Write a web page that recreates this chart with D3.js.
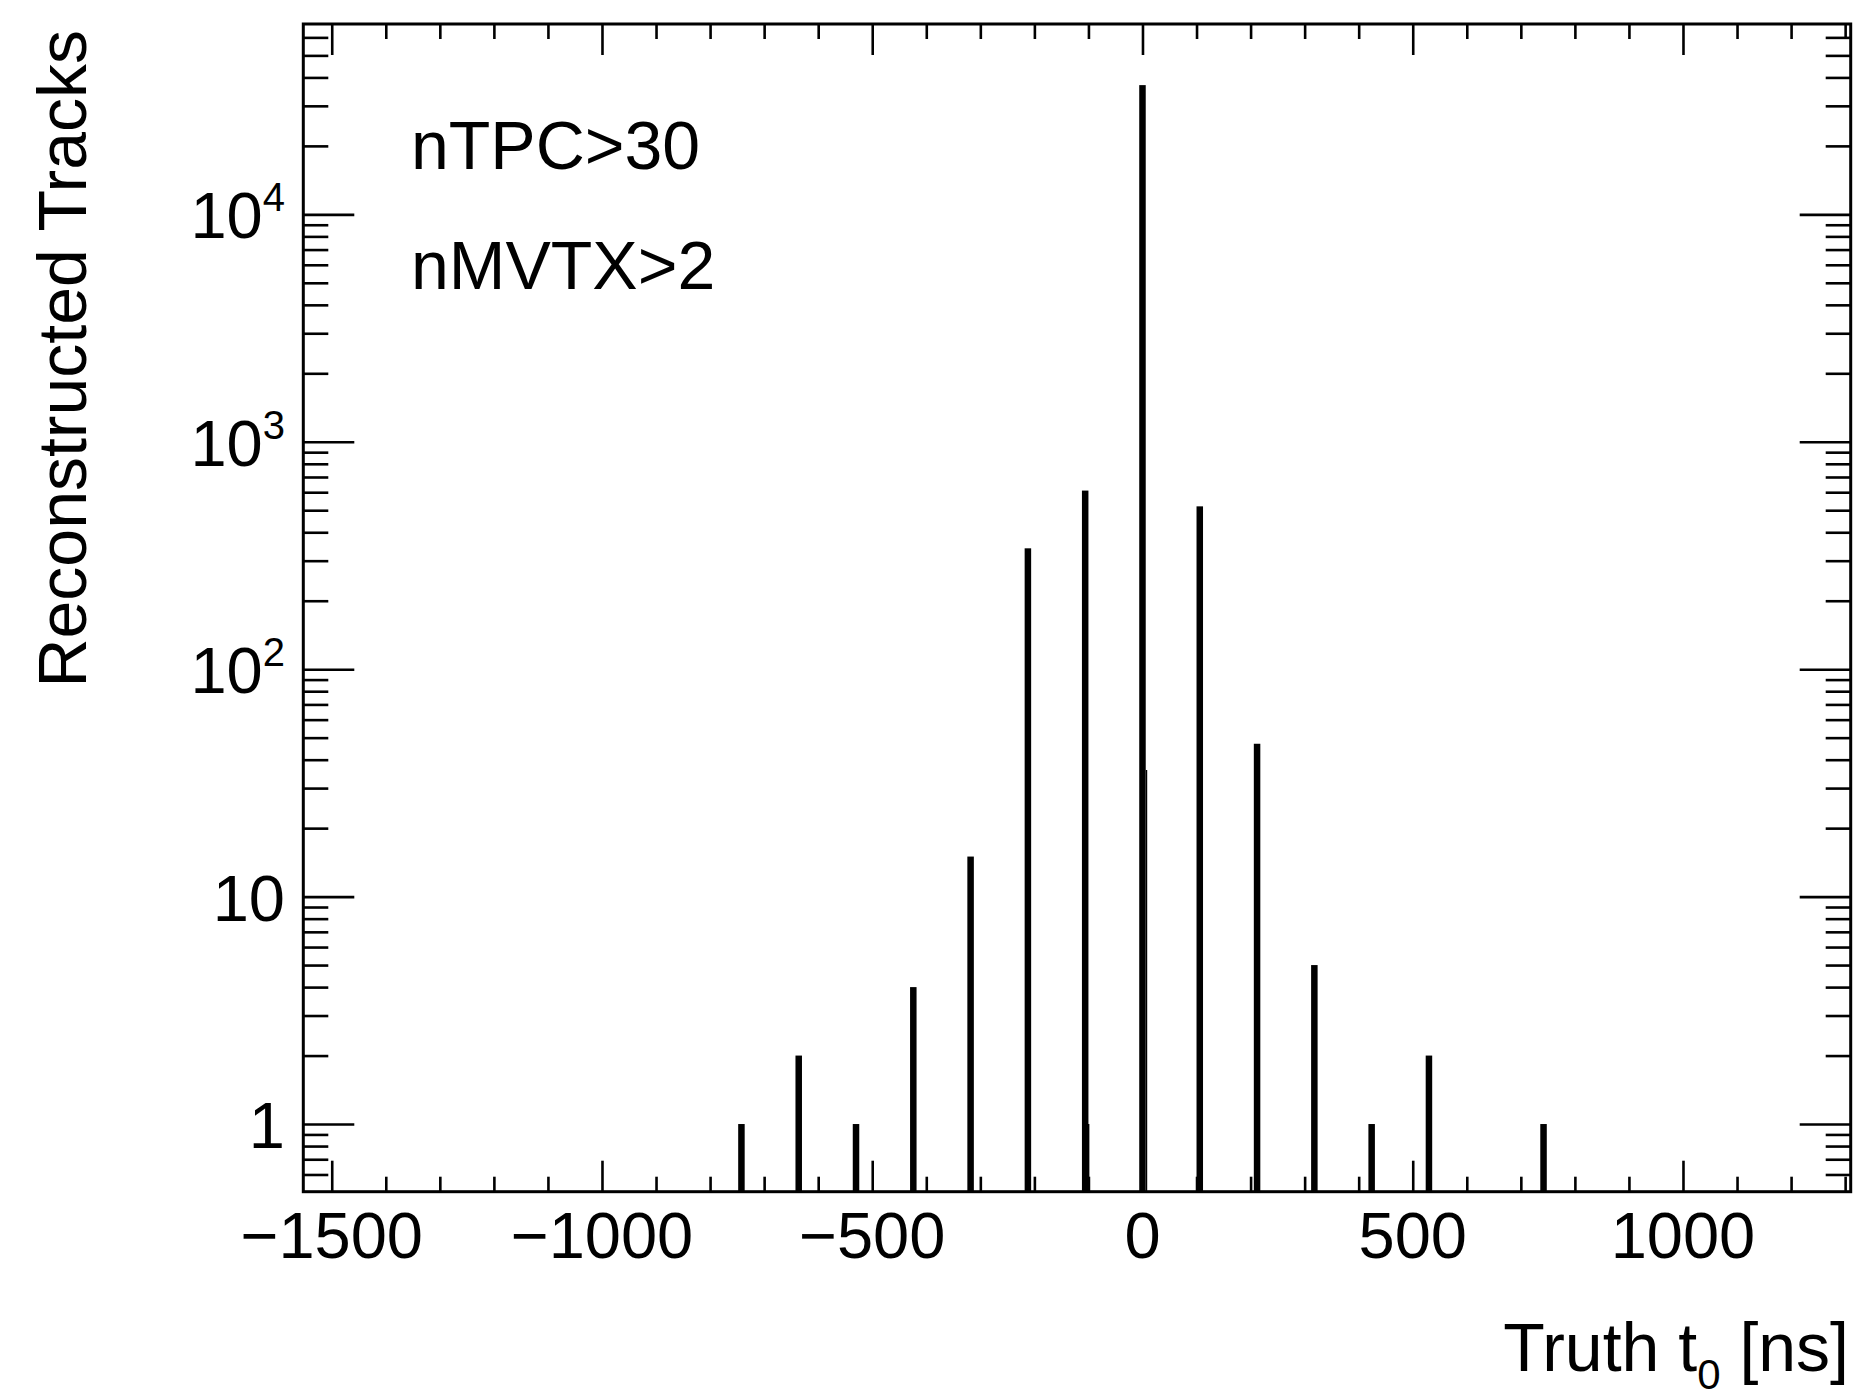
<!DOCTYPE html>
<html>
<head>
<meta charset="utf-8">
<script src="https://cdn.jsdelivr.net/npm/d3@7/dist/d3.min.js"></script>
<style>
  html, body { margin: 0; padding: 0; background: #fff; }
  svg { display: block; }
  text { font-family: "Liberation Sans", Arial, Helvetica, sans-serif; fill: #000; }
</style>
</head>
<body>
<div id="chart"></div>
<script>
// truth t0 of each bunch crossing (ns) and number of reconstructed tracks
var crossingTimes = [-742, -636, -530, -424, -318, -212, -106, 0, 106, 212, 318, 424, 530, 742];
var trackCounts   = [1, 2, 1, 4, 15, 340, 610, 37000, 520, 47, 5, 1, 2, 1];
// small neighbouring bins just right of the main spikes
var sideTimes  = [-100, 7];
var sideCounts = [1, 36];

var xMajor = [-1500, -1000, -500, 0, 500, 1000];
var xLabels = ['\u22121500', '\u22121000', '\u2212500', '0', '500', '1000'];
var yMajor = [1, 10, 100, 1000, 10000];
var yLabels = [['1', ''], ['10', ''], ['10', '2'], ['10', '3'], ['10', '4']];
var cuts = ['nTPC>30', 'nMVTX>2'];

var W = 1856, H = 1389;
var L = 303.3, R = 1850.7, T = 24, B = 1191.7;

var svg = d3.select('#chart').append('svg').attr('width', W).attr('height', H);

var x = d3.scaleLinear().domain([-1552.6, 1310.3]).range([L, R]);
var y = d3.scaleLog().domain([0.504, 68700]).range([B, T]);

// minor ticks
var xMinor = d3.range(-1500, 1301, 100).filter(function (v) { return v % 500 !== 0; });
var yMinor = [];
[0.1, 1, 10, 100, 1000, 10000].forEach(function (d) {
  for (var m = 2; m <= 9; m++) {
    var v = d * m;
    if (v > 0.504 && v < 68700) yMinor.push(v);
  }
});

function tickGroup(axis, tx, ty) {
  var g = svg.append('g').attr('transform', 'translate(' + tx + ',' + ty + ')').call(axis);
  g.select('.domain').remove();
  g.selectAll('text').remove();
  g.selectAll('line').attr('stroke', '#000').attr('stroke-width', 2.6);
  return g;
}

// x ticks bottom and top
tickGroup(d3.axisBottom(x).tickValues(xMajor).tickSize(-31), 0, B);
tickGroup(d3.axisBottom(x).tickValues(xMinor).tickSize(-15), 0, B);
tickGroup(d3.axisTop(x).tickValues(xMajor).tickSize(-31), 0, T);
tickGroup(d3.axisTop(x).tickValues(xMinor).tickSize(-15), 0, T);
// y ticks left and right
tickGroup(d3.axisLeft(y).tickValues(yMajor).tickSize(-51), L, 0);
tickGroup(d3.axisLeft(y).tickValues(yMinor).tickSize(-25), L, 0);
tickGroup(d3.axisRight(y).tickValues(yMajor).tickSize(-51), R, 0);
tickGroup(d3.axisRight(y).tickValues(yMinor).tickSize(-25), R, 0);

// spikes
var barW = 6.5;
svg.append('g').selectAll('rect').data(crossingTimes).join('rect')
  .attr('x', function (d) { return x(d) - barW / 2; })
  .attr('width', barW)
  .attr('y', function (d, i) { return y(trackCounts[i]); })
  .attr('height', function (d, i) { return B - y(trackCounts[i]); })
  .attr('fill', '#000');

svg.append('g').selectAll('line').data(sideTimes).join('line')
  .attr('x1', function (d) { return x(d) + barW / 2 - 3; })
  .attr('x2', function (d) { return x(d) + barW / 2 - 3; })
  .attr('y1', B)
  .attr('y2', function (d, i) { return y(sideCounts[i]); })
  .attr('stroke', '#000').attr('stroke-width', 1.4);

// frame
svg.append('rect').attr('x', L).attr('y', T).attr('width', R - L).attr('height', B - T)
  .attr('fill', 'none').attr('stroke', '#000').attr('stroke-width', 3);

// x labels
svg.append('g').selectAll('text').data(xMajor).join('text')
  .attr('x', function (d) { return x(d); })
  .attr('y', 1258)
  .attr('text-anchor', 'middle')
  .style('font-size', '65px')
  .text(function (d, i) { return xLabels[i]; });

// y labels
var yl = svg.append('g').selectAll('text').data(yMajor).join('text')
  .attr('x', 285)
  .attr('y', function (d) { return y(d) + 24; })
  .attr('text-anchor', 'end')
  .style('font-size', '65px');
yl.append('tspan').text(function (d, i) { return yLabels[i][0]; });
yl.append('tspan')
  .attr('dy', -27)
  .style('font-size', '40px')
  .text(function (d, i) { return yLabels[i][1]; });

// axis titles
var xt = svg.append('text').attr('x', 1849).attr('y', 1371).attr('text-anchor', 'end').style('font-size', '68px');
xt.append('tspan').text('Truth t');
xt.append('tspan').attr('dy', 18).style('font-size', '42px').text('0');
xt.append('tspan').attr('dy', -18).text(' [ns]');

svg.append('text')
  .attr('transform', 'translate(86,30) rotate(-90)')
  .attr('text-anchor', 'end')
  .style('font-size', '68px')
  .text('Reconstructed Tracks');

// cut labels
svg.append('g').selectAll('text').data(cuts).join('text')
  .attr('x', 411)
  .attr('y', function (d, i) { return 169 + i * 120; })
  .style('font-size', '68px')
  .text(function (d) { return d; });
</script>
</body>
</html>
